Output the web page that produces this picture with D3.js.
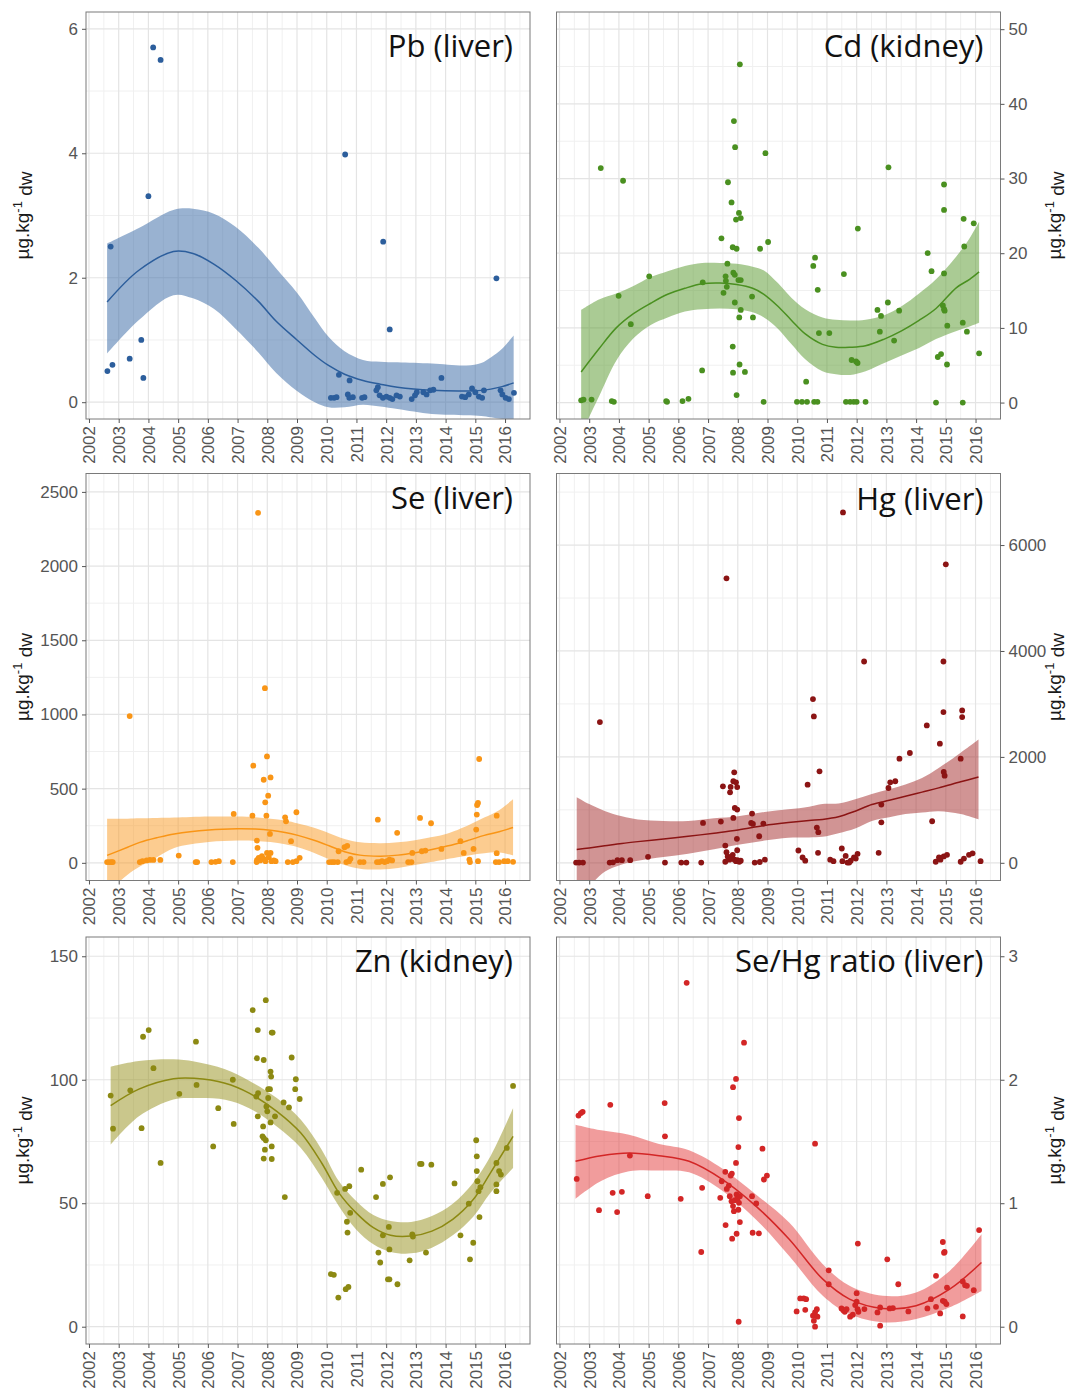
<!DOCTYPE html>
<html><head><meta charset="utf-8">
<script src="https://cdn.jsdelivr.net/npm/d3@7"></script>
<style>body{margin:0;background:#fff}</style>
</head><body>
<svg id="chart" width="1072" height="1391"></svg>
<script>
// ---------- data ----------
const yearTicks = d3.range(2002, 2017);
const xDomain = [2001.9, 2016.84];
const panelTitles = ["Pb (liver)", "Cd (kidney)", "Se (liver)", "Hg (liver)", "Zn (kidney)", "Se/Hg ratio (liver)"];
const yTitle = ["µg.kg", "-1", " dw"];

const pbTicks = [0, 2, 4, 6];
const pbLimits = [-0.27, 6.27];
const pbPoints = [[2002.62,0.50],[2002.73,2.50],[2002.79,0.60],[2003.37,0.70],[2003.76,1.00],[2003.83,0.39],[2004.00,3.31],[2004.16,5.70],[2004.41,5.50],
[2010.14,0.07],[2010.25,0.07],[2010.33,0.08],[2010.41,0.44],[2010.71,0.125],[2010.77,0.35],[2010.76,0.07],[2010.88,0.08],[2010.62,3.98],[2011.19,0.07],[2011.27,0.08],[2011.67,0.19],[2011.72,0.24],[2011.78,0.11],[2011.89,0.07],[2011.90,2.58],[2012.01,0.09],[2012.12,1.17],[2012.12,0.07],[2012.21,0.05],[2012.35,0.11],[2012.46,0.09],[2012.86,0.05],[2012.97,0.11],[2013.03,0.16],[2013.25,0.16],[2013.36,0.125],[2013.48,0.19],[2013.59,0.20],[2013.86,0.39],[2014.55,0.09],[2014.66,0.08],[2014.78,0.125],[2014.89,0.22],[2015.00,0.16],[2015.12,0.09],[2015.23,0.07],[2015.29,0.19],[2015.71,1.99],[2015.85,0.19],[2015.91,0.125],[2016.02,0.07],[2016.13,0.05],[2016.30,0.15]];
// [year, lower, fit, upper]
const pbFit = [[2002.61,0.78,1.61,2.55],[2003.68,1.32,2.12,2.80],[2004.84,1.72,2.42,3.09],[2005.50,1.67,2.39,3.11],[2006.20,1.50,2.22,3.03],[2006.93,1.18,1.96,2.82],[2007.70,0.80,1.62,2.48],[2008.30,0.47,1.30,2.15],[2009.00,0.18,1.00,1.76],[2009.60,0.00,0.75,1.35],[2010.06,-0.08,0.59,1.05],[2010.60,-0.08,0.45,0.82],[2011.22,-0.04,0.35,0.68],[2011.80,-0.07,0.29,0.65],[2012.38,-0.11,0.24,0.64],[2013.54,-0.19,0.19,0.62],[2014.70,-0.21,0.18,0.59],[2015.20,-0.22,0.19,0.63],[2015.52,-0.24,0.21,0.72],[2015.90,-0.27,0.25,0.86],[2016.29,-0.30,0.31,1.07]];

const cdTicks = [0, 10, 20, 30, 40, 50];
const cdLimits = [-2.2, 52.3];
const cdPoints = [[2002.73,0.3],[2002.81,0.4],[2003.08,0.4],[2003.39,31.4],[2003.76,0.2],[2003.83,0.1],[2003.99,14.3],[2004.14,29.7],[2004.40,10.5],[2005.02,16.9],[2005.59,0.2],[2005.62,0.1],[2006.14,0.2],[2006.34,0.5],[2006.82,16.1],[2006.80,4.3],[2007.45,22.0],[2007.67,29.5],[2007.79,26.8],[2007.87,37.7],[2007.91,34.2],[2007.83,20.8],[2007.96,20.6],[2007.65,18.6],[2007.59,16.9],[2007.60,16.3],[2007.52,14.7],[2007.63,15.5],[2007.85,17.4],[2007.90,17.1],[2007.90,13.4],[2008.02,16.4],[2008.10,16.4],[2007.94,24.5],[2008.04,25.4],[2008.10,24.7],[2008.07,45.3],[2008.10,12.4],[2008.05,11.4],[2007.83,7.5],[2007.84,4.0],[2008.06,5.1],[2008.24,4.1],[2007.96,1.0],[2008.48,14.2],[2008.51,11.4],[2008.75,20.6],[2008.93,33.4],[2009.02,21.5],[2008.87,0.1],[2009.99,0.1],[2010.16,0.1],[2010.33,0.1],[2010.30,2.8],[2010.54,18.3],[2010.60,19.4],[2010.69,15.1],[2010.57,0.1],[2010.68,0.1],[2010.73,9.3],[2011.08,9.3],[2011.57,17.2],[2011.64,0.1],[2011.78,0.1],[2011.90,0.1],[2012.00,0.1],[2012.30,0.1],[2011.83,5.7],[2011.98,5.5],[2012.03,5.3],[2012.04,23.3],[2012.70,12.4],[2012.82,11.6],[2012.78,9.5],[2013.05,13.4],[2013.07,31.5],[2013.26,8.3],[2013.43,12.3],[2014.39,20.0],[2014.52,17.6],[2014.94,29.2],[2014.94,25.8],[2014.94,17.3],[2014.90,13.0],[2014.94,12.5],[2014.96,12.3],[2015.05,10.3],[2014.67,0.0],[2014.73,6.1],[2014.84,6.5],[2015.04,5.1],[2015.60,24.6],[2015.62,20.9],[2015.57,10.7],[2015.71,9.5],[2015.57,0.0],[2015.94,24.0],[2016.12,6.6]];
const cdFit = [[2002.73,-4.2,4.1,12.4],[2003.33,0.8,7.2,13.8],[2003.91,5.6,10.0,14.6],[2004.49,8.6,11.9,15.6],[2005.07,10.4,13.3,16.8],[2005.64,11.4,14.5,17.6],[2006.22,12.2,15.3,18.3],[2006.80,12.5,15.9,18.7],[2007.40,12.6,16.0,18.7],[2007.96,12.5,15.8,18.6],[2008.50,12.1,15.3,18.2],[2008.88,11.4,14.5,17.7],[2009.35,9.9,12.9,16.0],[2009.81,7.8,11.0,14.0],[2010.27,5.8,9.2,12.5],[2010.85,4.2,7.8,11.4],[2011.30,3.8,7.4,11.1],[2011.78,3.7,7.4,11.0],[2012.30,4.2,7.6,11.1],[2012.93,5.3,8.5,11.7],[2013.51,6.3,9.6,12.9],[2014.10,7.3,11.0,14.6],[2014.67,8.5,12.6,16.5],[2015.36,9.6,15.4,19.6],[2015.80,10.2,16.5,22.0],[2016.12,10.7,17.5,24.2]];

const seTicks = [0, 500, 1000, 1500, 2000, 2500];
const seLimits = [-119, 2624];
const sePoints = [[2002.61,5],[2002.69,5],[2002.76,5],[2002.80,5],[2003.37,989],[2003.71,5],[2003.80,11],[2003.94,16],[2004.05,20],[2004.17,20],[2004.40,20],[2005.02,49],[2005.59,5],[2005.64,5],[2006.12,5],[2006.26,7],[2006.37,11],[2006.84,5],[2006.87,330],[2007.50,318],[2007.53,655],[2007.65,150],[2007.67,101],[2007.69,2359],[2007.88,560],[2007.93,408],[2007.97,318],[2007.92,1177],[2007.99,717],[2008.03,453],[2008.11,576],[2008.09,195],[2007.65,18],[2007.71,34],[2007.76,16],[2007.82,45],[2007.88,27],[2007.94,11],[2007.99,67],[2008.05,38],[2008.11,67],[2008.14,11],[2008.22,16],[2008.28,11],[2007.64,5],[2008.60,307],[2008.63,280],[2008.80,146],[2008.98,341],[2008.69,5],[2008.86,5],[2008.98,11],[2009.09,34],[2010.08,5],[2010.17,5],[2010.25,5],[2010.37,5],[2010.40,78],[2010.60,105],[2010.69,115],[2010.66,5],[2010.75,11],[2010.80,27],[2011.12,5],[2011.24,5],[2011.72,291],[2011.69,5],[2011.77,5],[2011.86,11],[2011.95,5],[2012.03,11],[2012.11,22],[2012.20,16],[2012.37,202],[2012.74,5],[2012.85,5],[2012.88,67],[2013.14,303],[2013.20,78],[2013.32,83],[2013.51,267],[2013.86,94],[2014.50,146],[2014.61,67],[2014.80,22],[2014.82,5],[2014.94,94],[2015.03,224],[2015.05,325],[2015.06,390],[2015.09,404],[2015.13,700],[2015.09,11],[2015.72,318],[2015.72,65],[2015.69,5],[2015.80,5],[2015.97,11],[2016.09,11],[2016.27,7]];
const seFit = [[2002.61,-200,50,298],[2003.30,-80,105,298],[2003.71,-25,138,300],[2004.30,40,170,302],[2004.87,100,195,305],[2006.03,140,222,312],[2007.00,150,230,312],[2007.60,148,228,308],[2008.11,140,220,298],[2008.60,125,205,285],[2009.03,105,185,265],[2009.60,65,150,235],[2010.08,25,115,200],[2010.60,-15,75,160],[2011.12,-40,52,138],[2011.81,-45,45,132],[2012.40,-35,52,138],[2012.97,-15,68,152],[2013.50,5,88,172],[2013.89,20,105,188],[2014.40,38,130,222],[2014.82,52,155,258],[2015.30,65,185,305],[2015.80,70,210,355],[2016.27,50,238,428]];

const hgTicks = [0, 2000, 4000, 6000];
const hgLimits = [-334, 7351];
const hgPoints = [[2002.56,5],[2002.66,5],[2002.79,5],[2003.36,2658],[2003.69,5],[2003.80,10],[2003.95,50],[2004.10,50],[2004.38,50],[2004.98,113],[2005.55,5],[2006.10,5],[2006.27,5],[2006.77,5],[2006.83,754],[2007.43,779],[2007.50,1444],[2007.58,326],[2007.62,200],[2007.62,5372],[2007.58,20],[2007.66,120],[2007.72,60],[2007.78,100],[2007.83,150],[2007.89,60],[2007.94,30],[2007.99,50],[2008.05,20],[2008.10,40],[2007.74,1331],[2007.76,1432],[2007.85,848],[2007.88,1708],[2007.85,1540],[2007.94,1520],[2007.98,1430],[2007.90,1037],[2007.98,1005],[2007.97,452],[2007.98,237],[2008.48,929],[2008.45,754],[2008.51,735],[2008.72,502],[2008.86,741],[2008.57,5],[2008.74,15],[2008.91,60],[2010.04,232],[2010.18,100],[2010.27,40],[2010.35,1476],[2010.53,3091],[2010.56,2765],[2010.66,666],[2010.71,578],[2010.75,1727],[2010.70,188],[2011.11,60],[2011.22,30],[2011.54,6616],[2011.50,270],[2011.63,130],[2011.52,30],[2011.69,5],[2011.80,40],[2011.91,100],[2011.97,80],[2012.03,170],[2011.75,5],[2012.25,3801],[2012.74,188],[2012.83,1099],[2012.83,765],[2013.07,1413],[2013.13,1520],[2013.30,1540],[2013.44,1966],[2013.79,2073],[2014.36,2595],[2014.54,785],[2014.80,2249],[2014.92,2846],[2014.92,3801],[2015.00,5636],[2014.93,1715],[2014.96,1646],[2014.66,20],[2014.77,100],[2014.82,60],[2014.93,120],[2015.04,150],[2015.50,1966],[2015.55,2878],[2015.55,2752],[2015.50,20],[2015.61,80],[2015.78,150],[2015.90,180],[2016.17,30]];
const hgFit = [[2002.58,-740,250,1240],[2003.00,-450,280,1110],[2003.52,-170,320,980],[2004.10,-30,365,880],[2004.64,40,400,820],[2005.50,110,450,790],[2006.33,170,500,790],[2007.20,255,560,840],[2008.01,340,620,880],[2008.90,420,705,960],[2009.70,475,760,1010],[2010.40,480,800,1060],[2010.85,490,820,1110],[2011.39,560,870,1120],[2011.95,650,975,1200],[2012.51,790,1100,1300],[2013.10,860,1180,1390],[2013.64,920,1255,1480],[2014.20,950,1335,1600],[2014.76,975,1415,1790],[2015.50,920,1530,2080],[2016.10,820,1620,2330]];

const znTicks = [0, 50, 100, 150];
const znLimits = [-7.0, 157.8];
const znPoints = [[2002.73,93.6],[2002.81,80.2],[2003.39,95.7],[2003.82,117.4],[2004.01,120.1],[2003.77,80.4],[2004.17,104.7],[2004.41,66.3],[2005.04,94.3],[2005.60,115.4],[2005.62,97.9],[2006.18,73.0],[2006.35,88.5],[2006.84,100.0],[2006.87,82.1],[2007.51,128.2],[2007.63,93.2],[2007.69,94.6],[2007.68,85.2],[2007.68,120.1],[2007.65,108.7],[2007.88,108.0],[2007.95,132.2],[2007.97,89.2],[2008.00,87.2],[2007.86,81.1],[2007.84,77.1],[2007.88,76.4],[2007.95,75.5],[2007.92,71.7],[2007.88,68.1],[2008.03,96.2],[2008.09,96.2],[2008.03,92.6],[2008.11,103.3],[2008.13,101.3],[2008.15,119.1],[2008.18,119.1],[2008.11,82.7],[2008.15,73.0],[2008.15,67.9],[2008.26,85.2],[2008.55,90.8],[2008.59,52.5],[2008.73,88.8],[2008.82,109.0],[2008.96,100.2],[2008.94,96.2],[2009.09,92.2],[2010.14,21.3],[2010.24,21.0],[2010.39,11.8],[2010.35,54.2],[2010.62,55.8],[2010.76,56.9],[2010.64,15.2],[2010.73,16.1],[2010.68,42.5],[2010.70,38.1],[2010.79,46.1],[2011.16,63.6],[2011.66,52.5],[2011.74,30.0],[2011.80,26.0],[2011.89,57.8],[2011.89,37.0],[2012.09,40.4],[2012.13,60.5],[2012.06,19.2],[2012.11,19.2],[2012.11,31.3],[2012.38,17.2],[2012.79,26.9],[2012.88,37.4],[2012.90,36.5],[2013.14,65.9],[2013.19,65.9],[2013.34,30.0],[2013.52,65.6],[2014.30,58.0],[2014.50,37.0],[2014.78,49.8],[2014.82,27.3],[2014.93,34.0],[2015.03,75.5],[2015.05,69.0],[2015.05,63.0],[2015.07,58.9],[2015.11,54.9],[2015.17,56.5],[2015.14,44.4],[2015.71,66.3],[2015.71,57.6],[2015.71,54.9],[2015.80,63.0],[2015.86,61.6],[2016.06,72.4],[2016.27,97.5]];
const znFit = [[2002.73,73.7,89.5,105.3],[2003.68,85.2,96.2,107.6],[2004.84,92.0,100.4,108.3],[2005.54,92.6,100.6,107.4],[2006.58,91.9,98.6,104.3],[2007.39,88.5,94.6,99.6],[2008.32,81.1,87.2,92.6],[2009.13,72.4,78.4,83.8],[2009.83,60.3,66.3,71.7],[2010.41,48.8,54.2,58.9],[2010.99,39.4,46.1,50.9],[2011.57,33.4,40.1,45.2],[2012.15,30.3,37.0,42.8],[2012.84,29.7,36.7,42.4],[2013.54,32.0,38.7,44.8],[2014.24,37.0,43.5,49.8],[2014.93,44.5,51.5,58.3],[2015.51,54.2,62.3,69.0],[2016.27,64.3,77.1,88.5]];

const ratioTicks = [0, 1, 2, 3];
const ratioLimits = [-0.14, 3.156];
const ratioPoints = [[2002.58,1.197],[2002.64,1.71],[2002.72,1.73],[2002.78,1.74],[2003.33,0.944],[2003.71,1.797],[2003.79,1.084],[2003.94,0.928],[2004.10,1.092],[2004.37,1.386],[2004.97,1.057],[2005.54,1.811],[2005.55,1.542],[2006.08,1.036],[2006.28,2.785],[2006.77,0.605],[2006.80,1.125],[2007.41,1.044],[2007.46,1.178],[2007.58,1.254],[2007.59,0.823],[2007.63,1.116],[2007.70,1.143],[2007.76,1.224],[2007.80,1.240],[2007.81,0.713],[2007.84,1.940],[2007.94,2.007],[2007.94,1.326],[2007.96,0.753],[2007.73,1.057],[2007.79,1.017],[2007.84,0.977],[2007.90,1.025],[2007.96,1.071],[2007.99,1.036],[2008.04,1.003],[2008.07,1.057],[2008.02,0.947],[2007.87,0.936],[2008.04,1.690],[2008.02,1.455],[2008.07,0.847],[2008.03,0.040],[2008.21,2.300],[2008.48,1.057],[2008.50,0.761],[2008.62,0.998],[2008.71,0.756],[2008.83,1.442],[2008.88,1.192],[2008.98,1.224],[2009.98,0.124],[2010.10,0.229],[2010.22,0.229],[2010.30,0.223],[2010.27,0.137],[2010.53,0.089],[2010.60,0.116],[2010.66,0.142],[2010.56,0.048],[2010.60,0.000],[2010.68,0.081],[2010.60,1.482],[2011.06,0.457],[2011.06,0.344],[2011.49,0.148],[2011.55,0.134],[2011.60,0.121],[2011.66,0.142],[2011.78,0.081],[2011.87,0.097],[2011.95,0.175],[2012.00,0.202],[2012.03,0.142],[2012.06,0.121],[2012.04,0.673],[2012.00,0.272],[2012.26,0.143],[2012.70,0.116],[2012.79,0.008],[2012.79,0.156],[2013.03,0.546],[2013.11,0.148],[2013.22,0.151],[2013.40,0.344],[2013.74,0.124],[2014.38,0.148],[2014.50,0.223],[2014.67,0.412],[2014.67,0.161],[2014.81,0.108],[2014.90,0.686],[2014.94,0.599],[2014.96,0.605],[2014.90,0.210],[2014.96,0.202],[2015.02,0.183],[2015.04,0.317],[2015.57,0.366],[2015.57,0.083],[2015.65,0.336],[2015.71,0.331],[2015.94,0.296],[2016.12,0.783]];
const ratioFit = [[2002.54,1.036,1.34,1.636],[2003.40,1.18,1.385,1.59],[2004.34,1.259,1.407,1.555],[2005.35,1.265,1.385,1.48],[2006.36,1.25,1.34,1.43],[2007.49,1.10,1.192,1.28],[2008.61,0.869,0.977,1.071],[2009.73,0.573,0.708,0.843],[2010.86,0.25,0.385,0.506],[2011.76,0.102,0.224,0.331],[2012.88,0.035,0.148,0.25],[2014.00,0.062,0.17,0.278],[2015.13,0.157,0.304,0.452],[2016.20,0.29,0.52,0.748]];

// ---------- layout / style ----------
const colX = [86, 556.5], rowY = [12, 473.5, 937], PW = 444, PH = 407;
const panels = [
  {title: panelTitles[0], pts: pbPoints, fit: pbFit, ticks: pbTicks, lim: pbLimits, col: 0, row: 0, color: "#2c5e9c", band: "#3465a4", tdy: 45},
  {title: panelTitles[1], pts: cdPoints, fit: cdFit, ticks: cdTicks, lim: cdLimits, col: 1, row: 0, color: "#4a9020", band: "#55982a", tdy: 45},
  {title: panelTitles[2], pts: sePoints, fit: seFit, ticks: seTicks, lim: seLimits, col: 0, row: 1, color: "#f99516", band: "#f99a22", tdy: 35},
  {title: panelTitles[3], pts: hgPoints, fit: hgFit, ticks: hgTicks, lim: hgLimits, col: 1, row: 1, color: "#8b1414", band: "#a42a2a", tdy: 36},
  {title: panelTitles[4], pts: znPoints, fit: znFit, ticks: znTicks, lim: znLimits, col: 0, row: 2, color: "#8c8912", band: "#96901a", tdy: 35},
  {title: panelTitles[5], pts: ratioPoints, fit: ratioFit, ticks: ratioTicks, lim: ratioLimits, col: 1, row: 2, color: "#d32626", band: "#e43a3a", tdy: 35}
];

const svg = d3.select("#chart");
svg.append("rect").attr("width", 1072).attr("height", 1391).attr("fill", "#fff");

panels.forEach((p, i) => {
  const x0 = colX[p.col], y0 = rowY[p.row];
  const x = d3.scaleLinear().domain(xDomain).range([x0, x0 + PW]);
  const y = d3.scaleLinear().domain(p.lim).range([y0 + PH, y0]);
  const g = svg.append("g");
  const clipId = "clip" + i;
  svg.append("clipPath").attr("id", clipId).append("rect")
    .attr("x", x0).attr("y", y0).attr("width", PW).attr("height", PH);

  g.append("rect").attr("x", x0).attr("y", y0).attr("width", PW).attr("height", PH).attr("fill", "#fff");

  // grid
  const step = p.ticks[1] - p.ticks[0];
  const yMinor = d3.range(p.ticks[0] - step / 2, p.lim[1], step).filter(v => v > p.lim[0]);
  const xMinor = d3.range(2001.5, 2017.5, 1).filter(v => v > xDomain[0] && v < xDomain[1]);
  const grid = g.append("g").attr("clip-path", `url(#${clipId})`);
  grid.selectAll(".ymn").data(yMinor).join("line")
    .attr("x1", x0).attr("x2", x0 + PW).attr("y1", d => y(d)).attr("y2", d => y(d))
    .attr("stroke", "#f0f0f0").attr("stroke-width", 1);
  grid.selectAll(".xmn").data(xMinor).join("line")
    .attr("y1", y0).attr("y2", y0 + PH).attr("x1", d => x(d)).attr("x2", d => x(d))
    .attr("stroke", "#f0f0f0").attr("stroke-width", 1);
  grid.selectAll(".ymj").data(p.ticks).join("line")
    .attr("x1", x0).attr("x2", x0 + PW).attr("y1", d => y(d)).attr("y2", d => y(d))
    .attr("stroke", "#e4e4e4").attr("stroke-width", 1.2);
  grid.selectAll(".xmj").data(yearTicks).join("line")
    .attr("y1", y0).attr("y2", y0 + PH).attr("x1", d => x(d)).attr("x2", d => x(d))
    .attr("stroke", "#e4e4e4").attr("stroke-width", 1.2);

  const plot = g.append("g").attr("clip-path", `url(#${clipId})`);
  const area = d3.area().x(d => x(d[0])).y0(d => y(d[1])).y1(d => y(d[3])).curve(d3.curveCatmullRom.alpha(0.5));
  const line = d3.line().x(d => x(d[0])).y(d => y(d[2])).curve(d3.curveCatmullRom.alpha(0.5));
  plot.append("path").datum(p.fit).attr("d", area).attr("fill", p.band).attr("fill-opacity", 0.5);
  plot.selectAll("circle").data(p.pts).join("circle")
    .attr("cx", d => x(d[0])).attr("cy", d => y(d[1])).attr("r", 2.9).attr("fill", p.color);
  plot.append("path").datum(p.fit).attr("d", line).attr("fill", "none").attr("stroke", p.color).attr("stroke-width", 1.5);

  // border
  g.append("rect").attr("x", x0).attr("y", y0).attr("width", PW).attr("height", PH)
    .attr("fill", "none").attr("stroke", "#7a7a7a").attr("stroke-width", 1);

  // axes
  const xa = g.append("g").attr("transform", `translate(0,${y0 + PH})`)
    .call(d3.axisBottom(x).tickValues(yearTicks).tickFormat(d3.format("d")).tickSize(4).tickPadding(2));
  xa.select(".domain").remove();
  xa.selectAll("line").attr("stroke", "#555");
  xa.selectAll("text").attr("transform", "rotate(-90)").attr("x", -7).attr("y", 0).attr("dy", "0.35em")
    .style("text-anchor", "end").attr("fill", "#555").style("font", "17px 'Liberation Sans', Arial, sans-serif");

  const left = p.col === 0;
  const yAxis = (left ? d3.axisLeft(y) : d3.axisRight(y)).tickValues(p.ticks).tickFormat(d => d).tickSize(4).tickPadding(4);
  const ya = g.append("g").attr("transform", `translate(${left ? x0 : x0 + PW},0)`).call(yAxis);
  ya.select(".domain").remove();
  ya.selectAll("line").attr("stroke", "#555");
  ya.selectAll("text").attr("fill", "#555").style("font", "17px 'Liberation Sans', Arial, sans-serif");

  // axis title
  const tx = left ? 23 : 1055;
  const t = g.append("text").attr("transform", `translate(${tx},${y0 + PH / 2}) rotate(-90)`)
    .attr("text-anchor", "middle").attr("dy", "0.3em").attr("fill", "#1a1a1a")
    .style("font", "19px 'Liberation Sans', Arial, sans-serif");
  t.append("tspan").text(yTitle[0]);
  t.append("tspan").attr("dy", "-0.5em").style("font-size", "13px").text(yTitle[1]);
  t.append("tspan").attr("dy", "0.5em").text(yTitle[2]);

  // panel title
  g.append("text").attr("x", x0 + PW - 17).attr("y", y0 + p.tdy).attr("text-anchor", "end")
    .attr("fill", "#111").style("font", "31px 'Open Sans', sans-serif").text(p.title);
});
</script>
</body></html>
